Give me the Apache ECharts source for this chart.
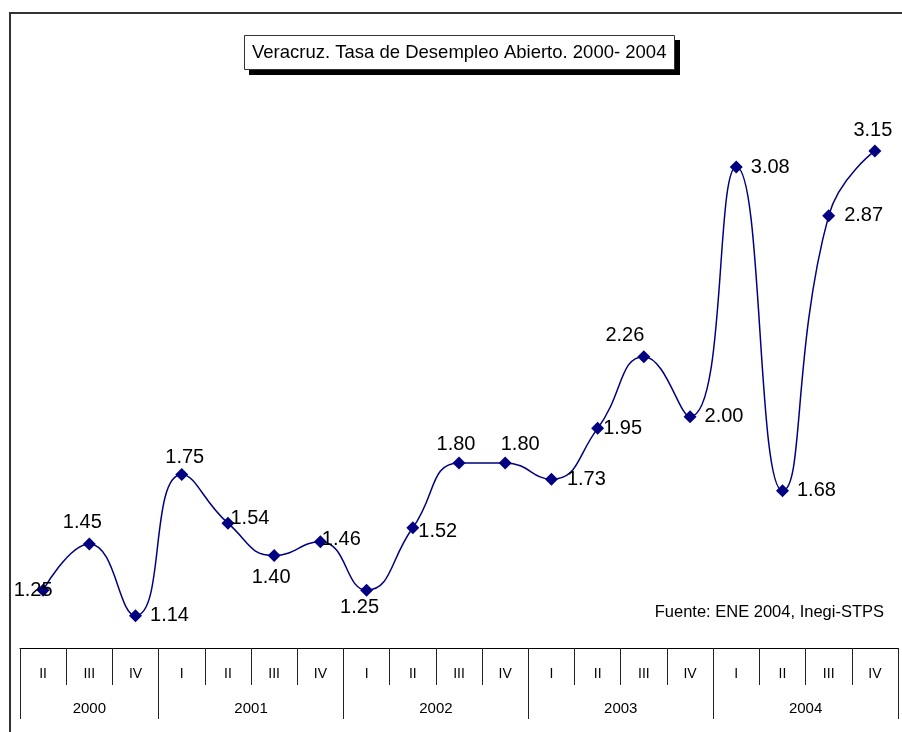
<!DOCTYPE html>
<html>
<head>
<meta charset="utf-8">
<script src="https://cdn.jsdelivr.net/npm/echarts@6/dist/echarts.min.js"></script>
<style>
  html, body { margin: 0; padding: 0; background: #fff; }
  #chart { width: 902px; height: 732px; }
</style>
</head>
<body>
<div id="chart"></div>
<script>
// datos
const quarters = ['II', 'III', 'IV', 'I', 'II', 'III', 'IV', 'I', 'II', 'III', 'IV', 'I', 'II', 'III', 'IV', 'I', 'II', 'III', 'IV']
const years = ['2000', '2001', '2002', '2003', '2004']
const quartersPerYear = [3, 4, 4, 4, 4]
const values = [1.25, 1.45, 1.14, 1.75, 1.54, 1.40, 1.46, 1.25, 1.52, 1.80, 1.80, 1.73, 1.95, 2.26, 2.00, 3.08, 1.68, 2.87, 3.15]

// colocacion de etiquetas (position, offset)
const labelPlace = [
  ['inside', [-10, 0]],
  ['top', [-7, 0]],
  ['right', [3, 0]],
  ['top', [3, 4]],
  ['right', [-9, -5]],
  ['bottom', [-3, 0]],
  ['right', [-10, -2]],
  ['bottom', [-7, -4]],
  ['right', [-6, 4]],
  ['top', [-3, 3]],
  ['top', [15, 3]],
  ['right', [4, 0]],
  ['right', [-6, 0]],
  ['top', [-19, 0]],
  ['right', [3, 0]],
  ['right', [3, 0]],
  ['right', [3, 0]],
  ['right', [4, 0]],
  ['top', [-2, 1]]
]

const FONT = "'Liberation Sans', Arial, sans-serif"

// eje de años: un punto cada medio trimestre (boundaryGap false)
const yearAxisData = new Array(quarters.length * 2 + 1).fill('')
const yearTickIdx = new Set([0])
let acc = 0
years.forEach((y, i) => {
  yearAxisData[acc * 2 + quartersPerYear[i]] = y
  acc += quartersPerYear[i]
  yearTickIdx.add(acc * 2)
})

const chart = echarts.init(document.getElementById('chart'))

chart.setOption({
  animation: false,
  backgroundColor: '#fff',
  title: [
    {
      text: 'Veracruz. Tasa de Desempleo Abierto. 2000- 2004',
      left: 244,
      top: 35,
      padding: [7, 8, 6, 8],
      backgroundColor: '#fff',
      borderColor: '#333',
      borderWidth: 1,
      textStyle: {
        fontFamily: FONT,
        fontSize: 18.5,
        fontWeight: 'normal',
        color: '#000',
        lineHeight: 22
      }
    },
    {
      text: 'Fuente: ENE 2004, Inegi-STPS',
      right: 18,
      top: 604,
      padding: 0,
      textStyle: {
        fontFamily: FONT,
        fontSize: 16.5,
        fontWeight: 'normal',
        color: '#000'
      }
    }
  ],
  graphic: [
    {
      // marco exterior
      type: 'rect',
      shape: { x: 10, y: 13, width: 1000, height: 1000 },
      style: { fill: 'none', stroke: '#333', lineWidth: 2 },
      silent: true
    },
    {
      // sombra del titulo
      type: 'rect',
      shape: { x: 249, y: 40, width: 431, height: 35 },
      style: { fill: '#000' },
      silent: true
    }
  ],
  grid: {
    left: 20,
    right: 4,
    top: 70,
    bottom: 84
  },
  xAxis: [
    {
      type: 'category',
      data: quarters,
      boundaryGap: true,
      position: 'bottom',
      axisLine: { show: true, lineStyle: { color: '#000', width: 1 } },
      axisTick: { show: true, length: 37, lineStyle: { color: '#222', width: 1 } },
      axisLabel: {
        interval: 0,
        margin: 19,
        fontFamily: FONT,
        fontSize: 14,
        color: '#000'
      },
      splitLine: { show: false }
    },
    {
      type: 'category',
      data: yearAxisData,
      boundaryGap: false,
      position: 'bottom',
      offset: 0,
      axisLine: { show: false },
      axisTick: {
        show: true,
        length: 71,
        interval: (idx) => yearTickIdx.has(idx),
        lineStyle: { color: '#222', width: 1 }
      },
      axisLabel: {
        interval: (idx, val) => val !== '',
        margin: 53,
        fontFamily: FONT,
        fontSize: 15,
        color: '#000'
      },
      splitLine: { show: false }
    }
  ],
  yAxis: {
    type: 'value',
    min: 1,
    max: 3.5,
    show: false
  },
  series: [
    {
      type: 'line',
      xAxisIndex: 0,
      data: values.map((v, i) => ({
        value: v,
        label: {
          position: labelPlace[i][0],
          offset: labelPlace[i][1]
        }
      })),
      smooth: 0.5,
      symbol: 'diamond',
      symbolSize: 13,
      lineStyle: { color: '#000080', width: 1.5 },
      itemStyle: { color: '#000080' },
      label: {
        show: true,
        distance: 5,
        formatter: (p) => p.value.toFixed(2),
        fontFamily: FONT,
        fontSize: 20,
        color: '#000'
      }
    }
  ]
})
</script>
</body>
</html>
